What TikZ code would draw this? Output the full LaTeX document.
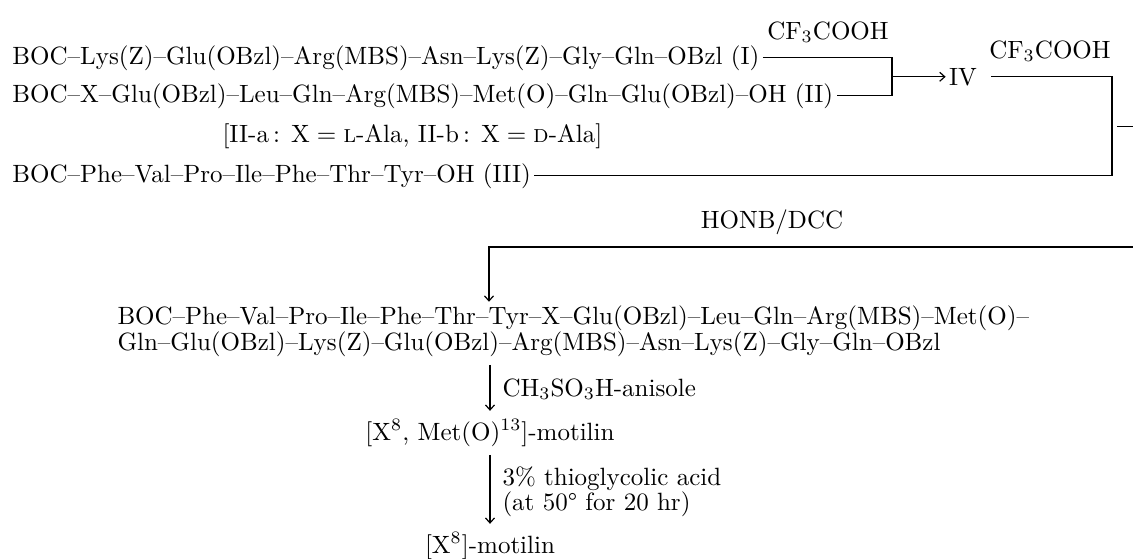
\documentclass[tikz,border=0pt]{standalone}
\usetikzlibrary{arrows.meta,calc}
\newcommand{\Dsh}{\textendash}
\begin{document}
\begin{tikzpicture}[x=1pt,y=-1pt,
  tx/.style={inner sep=0pt, font=\fontsize{10}{12}\selectfont, scale=2.5, transform shape},
  txt/.style={tx, anchor=base west},
  lbl/.style={tx, anchor=base},
  ln/.style={line width=1.2pt},
  arr/.style={line width=1.2pt, -{Straight Barb[length=5pt,width=9pt]}}]
\useasboundingbox (0,0) rectangle (1133,558);
% text
\node[txt] (l1) at (12,64) {BOC\Dsh Lys(Z)\Dsh Glu(OBzl)\Dsh Arg(MBS)\Dsh Asn\Dsh Lys(Z)\Dsh Gly\Dsh Gln\Dsh OBzl (I)};
\node[txt] (l2) at (12,102) {BOC\Dsh X\Dsh Glu(OBzl)\Dsh Leu\Dsh Gln\Dsh Arg(MBS)\Dsh Met(O)\Dsh Gln\Dsh Glu(OBzl)\Dsh OH (II)};
\node[txt] (l3) at (222,142) {[II-a\,: X\;=\;\textsc{l}-Ala, II-b\,: X\;=\;\textsc{d}-Ala]};
\node[txt] (l4) at (12,182) {BOC\Dsh Phe\Dsh Val\Dsh Pro\Dsh Ile\Dsh Phe\Dsh Thr\Dsh Tyr\Dsh OH (III)};
\node[lbl] (cf1) at (828,39) {CF$_3$COOH};
\node[tx] (iv) at (963,77) {IV};
\node[lbl] (cf2) at (1050,58) {CF$_3$COOH};
\node[lbl] (honb) at (772,228) {HONB/DCC};
\node[txt] (l5) at (117,324) {BOC\Dsh Phe\Dsh Val\Dsh Pro\Dsh Ile\Dsh Phe\Dsh Thr\Dsh Tyr\Dsh X\Dsh Glu(OBzl)\Dsh Leu\Dsh Gln\Dsh Arg(MBS)\Dsh Met(O)\Dsh};
\node[txt] (l6) at (117,350) {Gln\Dsh Glu(OBzl)\Dsh Lys(Z)\Dsh Glu(OBzl)\Dsh Arg(MBS)\Dsh Asn\Dsh Lys(Z)\Dsh Gly\Dsh Gln\Dsh OBzl};
\node[txt] (r1) at (502,396) {CH$_3$SO$_3$H-anisole};
\node[lbl] (p1) at (490,440) {[X\textsuperscript{8}, Met(O)\textsuperscript{13}]-motilin};
\node[txt] (r2a) at (502,485) {3\% thioglycolic acid};
\node[txt] (r2b) at (502,510) {(at 50\textdegree\ for 20 hr)};
\node[lbl] (p2) at (490,553) {[X\textsuperscript{8}]-motilin};
% guide coordinates
\coordinate (bx) at (892,0);
\coordinate (rx) at (1112,0);
\coordinate (edge) at (1133,0);
\coordinate (hy) at (0,247);
\coordinate (ax) at (489,0);
% first bracket
\draw[ln] ([xshift=3pt]l1.east) -- (l1.east -| bx) -- (l2.east -| bx) -- ([xshift=3pt]l2.east);
\coordinate (mid) at ($(l1.east -| bx)!0.5!(l2.east -| bx)$);
\draw[arr] (mid) -- ([xshift=-3pt]mid -| iv.west);
% second bracket
\draw[ln] ([xshift=14pt]mid -| iv.east) -- (mid -| rx) -- (l4.east -| rx) -- ([xshift=3pt]l4.east);
\coordinate (st) at ($(mid -| rx)!0.5!(l4.east -| rx)$);
\draw[ln] ([xshift=5pt]st) -- (st -| edge);
% HONB/DCC line
\draw[arr] (hy -| edge) -- (hy -| ax) -- ([yshift=3pt]l5.north -| ax);
% lower arrows
\draw[arr] ([yshift=-8pt]l6.south -| p1.north) -- ([yshift=8pt]p1.north);
\draw[arr] ([yshift=-8pt]p1.south) -- ([yshift=8pt]p2.north);
\end{tikzpicture}
\end{document}
